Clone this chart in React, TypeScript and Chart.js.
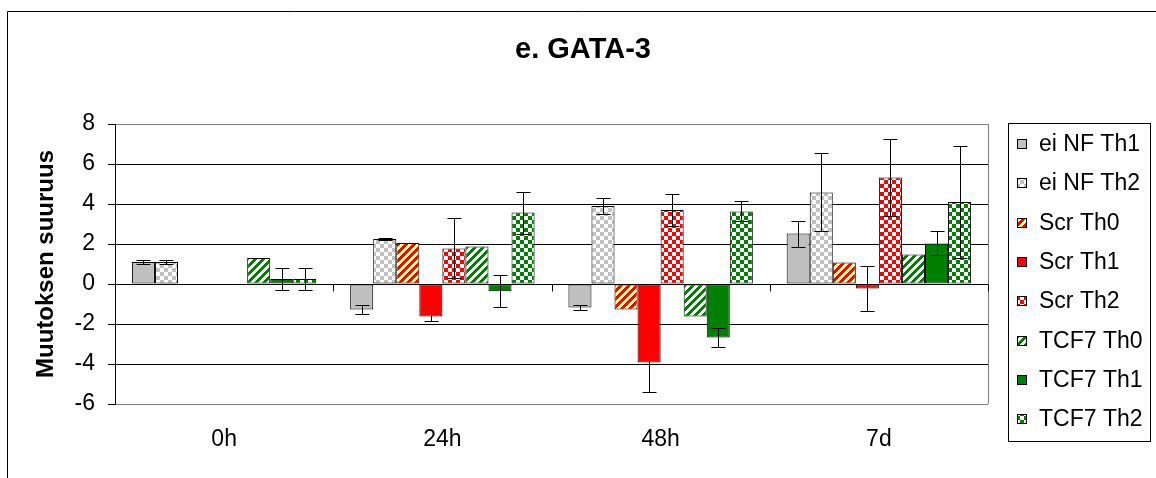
import React, { useEffect, useRef } from 'react';
import { Chart, registerables } from 'chart.js';

Chart.register(...registerables);

const chartTitle = 'e. GATA-3';
const yAxisTitle = 'Muutoksen suuruus';
const categories = ['0h', '24h', '48h', '7d'];
const yTickMin = -6;
const yTickMax = 8;
const yTickStep = 2;

const seriesLabels = ['ei NF Th1', 'ei NF Th2', 'Scr Th0', 'Scr Th1', 'Scr Th2', 'TCF7 Th0', 'TCF7 Th1', 'TCF7 Th2'];

const eiNFTh1 = [1.1, -1.28, -1.17, 2.52];
const eiNFTh1Err = [0.1, 0.23, 0.13, 0.65];
const eiNFTh2 = [1.1, 2.25, 3.9, 4.58];
const eiNFTh2Err = [0.1, 0.07, 0.42, 1.95];
const scrTh0 = [0, 2.05, -1.27, 1.08];
const scrTh1 = [0, -1.63, -3.93, -0.22];
const scrTh1Err = [0, 0.2, 1.47, 1.13];
const scrTh2 = [0, 1.78, 3.7, 5.33];
const scrTh2Err = [0, 1.5, 0.8, 1.93];
const tcf7Th0 = [1.3, 1.87, -1.63, 1.48];
const tcf7Th1 = [0.25, -0.36, -2.68, 2.03];
const tcf7Th1Err = [0.57, 0.8, 0.48, 0.6];
const tcf7Th2 = [0.25, 3.57, 3.63, 4.1];
const tcf7Th2Err = [0.57, 1.05, 0.5, 2.8];

const FONT = '"Liberation Sans", Arial, Helvetica, sans-serif';

function makePattern(kind: string, fg: string, bg: string): CanvasPattern | string {
  const c = document.createElement('canvas');
  c.width = 8;
  c.height = 8;
  const g = c.getContext('2d');
  if (!g) return fg;
  g.fillStyle = bg;
  g.fillRect(0, 0, 8, 8);
  g.fillStyle = fg;
  for (let y = 0; y < 8; y++) {
    for (let x = 0; x < 8; x++) {
      const on = kind === 'check'
        ? (Math.floor(x / 4) + Math.floor(y / 4)) % 2 === 0
        : (x + y) % 8 < 4;
      if (on) g.fillRect(x, y, 1, 1);
    }
  }
  return g.createPattern(c, 'repeat') || fg;
}

const errorBarPlugin = {
  id: 'errorBars',
  afterDatasetsDraw(chart: any) {
    const { ctx, scales } = chart;
    const yScale = scales.y;
    ctx.save();
    ctx.strokeStyle = '#000';
    ctx.lineWidth = 1;
    chart.data.datasets.forEach((ds: any, di: number) => {
      if (!ds.errors) return;
      const meta = chart.getDatasetMeta(di);
      meta.data.forEach((bar: any, i: number) => {
        const e = ds.errors[i];
        const v = ds.data[i];
        if (e === null || e === undefined || v === null) return;
        const x = Math.round(bar.x) + 0.5;
        const yTop = Math.round(yScale.getPixelForValue(v + e)) + 0.5;
        const yBot = Math.round(yScale.getPixelForValue(v - e)) + 0.5;
        ctx.beginPath();
        ctx.moveTo(x, yTop);
        ctx.lineTo(x, yBot);
        ctx.moveTo(x - 7, yTop);
        ctx.lineTo(x + 7, yTop);
        ctx.moveTo(x - 7, yBot);
        ctx.lineTo(x + 7, yBot);
        ctx.stroke();
      });
    });
    ctx.restore();
  },
};

const decorPlugin = {
  id: 'decor',
  beforeDraw(chart: any) {
    const { ctx } = chart;
    ctx.save();
    ctx.strokeStyle = '#000';
    ctx.lineWidth = 1;
    ctx.beginPath();
    ctx.moveTo(7.5, chart.height);
    ctx.lineTo(7.5, 11.5);
    ctx.lineTo(chart.width, 11.5);
    ctx.stroke();
    ctx.fillStyle = '#000';
    ctx.font = `bold 29px ${FONT}`;
    ctx.textAlign = 'center';
    ctx.textBaseline = 'alphabetic';
    ctx.fillText(chartTitle, 583, 58);
    ctx.restore();
  },
  beforeDatasetsDraw(chart: any) {
    const { ctx, chartArea } = chart;
    ctx.save();
    ctx.strokeStyle = '#808080';
    ctx.lineWidth = 1;
    ctx.beginPath();
    ctx.moveTo(Math.round(chartArea.right) + 0.5, chartArea.top);
    ctx.lineTo(Math.round(chartArea.right) + 0.5, chartArea.bottom);
    ctx.stroke();
    ctx.restore();
  },
  afterDatasetsDraw(chart: any) {
    const { ctx, chartArea, scales } = chart;
    const x = scales.x;
    const y0 = Math.round(scales.y.getPixelForValue(0)) + 0.5;
    ctx.save();
    ctx.strokeStyle = '#000';
    ctx.lineWidth = 1;
    ctx.beginPath();
    ctx.moveTo(chartArea.left, y0);
    ctx.lineTo(chartArea.right, y0);
    const step = x.getPixelForTick(1) - x.getPixelForTick(0);
    for (let i = 0; i <= categories.length; i++) {
      const px = Math.round(x.getPixelForTick(0) - step / 2 + i * step) + 0.5;
      ctx.moveTo(px, y0);
      ctx.lineTo(px, y0 + 7);
    }
    ctx.stroke();
    ctx.restore();
  },
  afterDraw(chart: any) {
    const { ctx } = chart;
    ctx.save();
    ctx.strokeStyle = '#000';
    ctx.lineWidth = 1;
    ctx.strokeRect(1008.5, 123.5, 142, 318);
    ctx.font = `23px ${FONT}`;
    ctx.textAlign = 'left';
    ctx.textBaseline = 'middle';
    chart.data.datasets.forEach((ds: any, i: number) => {
      const cy = Math.round(144 + i * 39.3);
      ctx.fillStyle = ds.backgroundColor;
      ctx.fillRect(1018, cy - 4, 8, 8);
      ctx.strokeStyle = '#000';
      ctx.strokeRect(1017.5, cy - 4.5, 9, 9);
      ctx.fillStyle = '#000';
      ctx.fillText(ds.label, 1039, cy + 1);
    });
    ctx.restore();
  },
};

export default function App() {
  const canvasRef = useRef<HTMLCanvasElement | null>(null);

  useEffect(() => {
    const canvas = canvasRef.current;
    if (!canvas) return;
    const fills = [
      '#C0C0C0',
      makePattern('check', '#C0C0C0', '#FFFFFF'),
      makePattern('diag', '#FF0000', '#FFFF99'),
      '#FF0000',
      makePattern('check', '#FF0000', '#FFFFFF'),
      makePattern('diag', '#008000', '#FFFFFF'),
      '#008000',
      makePattern('check', '#008000', '#FFFFFF'),
    ];
    const values = [eiNFTh1, eiNFTh2, scrTh0, scrTh1, scrTh2, tcf7Th0, tcf7Th1, tcf7Th2];
    const errs = [eiNFTh1Err, eiNFTh2Err, null, scrTh1Err, scrTh2Err, null, tcf7Th1Err, tcf7Th2Err];

    const chart = new Chart(canvas, {
      type: 'bar',
      data: {
        labels: categories,
        datasets: seriesLabels.map((label, i) => ({
          label,
          data: values[i],
          errors: errs[i],
          backgroundColor: fills[i],
          borderColor: '#000',
          borderWidth: 1,
          borderSkipped: false,
          barPercentage: 1,
          categoryPercentage: 0.845,
        })) as any,
      },
      options: {
        responsive: false,
        animation: false,
        events: [],
        layout: { padding: { left: 8, top: 124, right: 168, bottom: 0 } },
        plugins: {
          legend: { display: false },
          title: { display: false },
          tooltip: { enabled: false },
        },
        scales: {
          x: {
            grid: { display: false },
            border: { display: false },
            ticks: { color: '#000', font: { family: FONT, size: 23 }, padding: 14 },
            afterFit: (s: any) => { s.height = 74; },
          },
          y: {
            min: yTickMin,
            max: yTickMax,
            ticks: { stepSize: yTickStep, color: '#000', font: { family: FONT, size: 23 }, padding: 13 },
            grid: {
              color: (c: any) => (c.tick && (c.tick.value === yTickMax || c.tick.value === yTickMin) ? '#808080' : '#000'),
              tickColor: '#000',
              tickLength: 7,
              lineWidth: 1,
            },
            border: { color: '#000', width: 1 },
            title: {
              display: true,
              text: yAxisTitle,
              color: '#000',
              font: { family: FONT, size: 24, weight: 'bold' },
              padding: { top: 24, bottom: 0 },
            },
            afterFit: (s: any) => { s.width = 107; },
          },
        },
      } as any,
      plugins: [decorPlugin, errorBarPlugin],
    });
    return () => chart.destroy();
  }, []);

  return (
    <div style={{ position: 'absolute', left: 0, top: 0, width: 1156, height: 478, background: '#fff' }}>
      <canvas ref={canvasRef} width={1156} height={478} style={{ display: 'block' }} />
    </div>
  );
}
